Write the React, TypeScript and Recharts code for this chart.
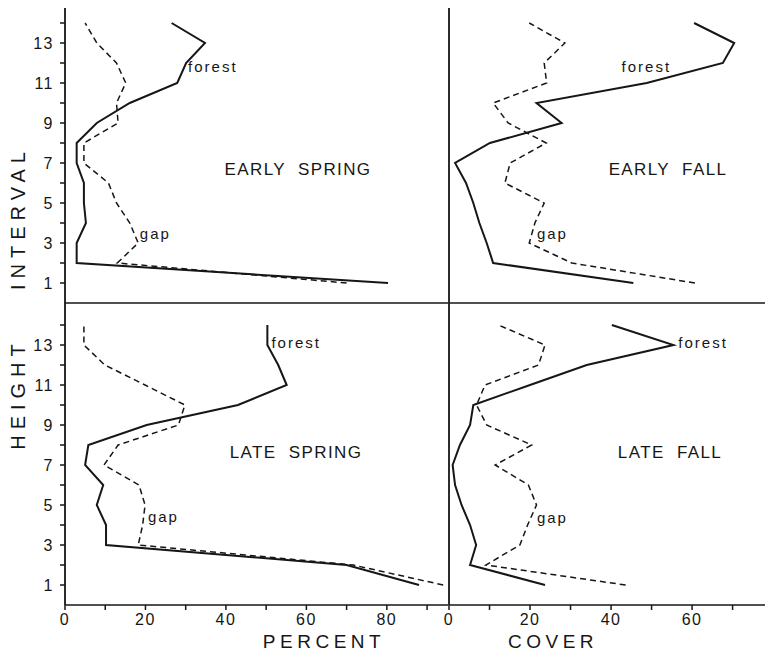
import React from 'react';
import { LineChart, Line, XAxis, YAxis, ReferenceDot } from 'recharts';

// height intervals, bottom to top
const heights = [1, 2, 3, 4, 5, 6, 7, 8, 9, 10, 11, 12, 13, 14];

// percent cover per height interval (index 0 = interval 1)
const earlySpringForest = [80.3, 2.9, 2.9, 5.2, 4.7, 4.7, 2.9, 2.9, 7.9, 16.1, 27.9, 30.1, 34.8, 26.5];
const earlySpringGap = [70, 13, 18.2, 16.1, 12.8, 10.8, 4.7, 4.7, 13.2, 12.8, 15.1, 12.8, 7.9, 5];
const earlyFallForest = [45.5, 10.9, 9.3, 7.5, 6, 4.2, 1.5, 10.1, 27.8, 21.6, 48.8, 67.6, 70.4, 60.5];
const earlyFallGap = [60.7, 30.3, 19.8, 21.2, 23.5, 13.8, 15.1, 24, 14.6, 10.9, 24.1, 23.5, 28.6, 19.8];
const lateSpringForest = [88, 70, 10.2, 10.2, 7.9, 9.5, 5, 5.8, 20.3, 43, 55.1, 53, 50.3, 50.3];
const lateSpringGap = [94, 71.6, 18.2, 19.3, 19.9, 18.4, 9.7, 13.2, 28.2, 29.8, 19.9, 9.9, 4.7, 4.7];
const lateFallForest = [23.7, 5.2, 6.7, 5.2, 3.1, 1.5, 0.9, 2.7, 5.2, 6, 20, 34, 55.4, 40.2];
const lateFallGap = [43.6, 9.1, 17.5, 19.4, 21.6, 19.6, 11.4, 20.4, 9.3, 6.8, 8.9, 22.1, 23.7, 12.2];

const leftCoverTicks = [0, 10, 20, 30, 40, 50, 60, 70, 80, 90];
const rightCoverTicks = [0, 10, 20, 30, 40, 50, 60, 70];

const INK = '#161616';
const FONT = '"Liberation Sans", Arial, sans-serif';

const oddOnly = (v: number) => (v % 2 === 1 ? String(v) : '');
const byTwenty = (v: number) => (v % 20 === 0 ? String(v) : '');

type PanelProps = {
  left: number;
  top: number;
  width: number;
  height: number;
  xMax: number;
  yMax: number;
  xTicks: number[];
  xLabels: boolean;
  yLabels: boolean;
  forest: number[];
  gap: number[];
  forestAt: [number, number];
  gapAt: [number, number];
};

function tag(text: string) {
  return (p: any) => (
    <text x={p.cx} y={p.cy} fill={INK} fontSize={15} fontFamily={FONT} letterSpacing={2}>
      {text}
    </text>
  );
}

function Panel(props: PanelProps) {
  const { left, top, width, height, xMax, yMax, xTicks, xLabels, yLabels, forest, gap, forestAt, gapAt } = props;
  const data = heights.map((h, i) => ({ h, forest: forest[i], gap: gap[i] }));
  return (
    <div style={{ position: 'absolute', left, top }}>
      <LineChart
        width={width}
        height={height}
        data={data}
        layout="vertical"
        margin={{ top: 8, right: 0, bottom: 0, left: 0 }}
      >
        <XAxis
          type="number"
          domain={[0, xMax]}
          ticks={xTicks}
          height={xLabels ? 35 : 10}
          tick={xLabels ? { fill: INK, fontSize: 16, fontFamily: FONT, letterSpacing: 1.5 } : false}
          tickFormatter={byTwenty}
          tickSize={5}
          tickMargin={4}
          axisLine={{ stroke: INK, strokeWidth: 1.5 }}
          tickLine={{ stroke: INK, strokeWidth: 1.5 }}
          allowDataOverflow
        />
        <YAxis
          type="number"
          dataKey="h"
          domain={[0, yMax]}
          ticks={heights}
          reversed
          width={65}
          tick={yLabels ? { fill: INK, fontSize: 16, fontFamily: FONT, letterSpacing: 1.5 } : false}
          tickFormatter={oddOnly}
          tickSize={5}
          tickMargin={6}
          axisLine={{ stroke: INK, strokeWidth: 1.8 }}
          tickLine={{ stroke: INK, strokeWidth: 1.5 }}
          allowDataOverflow
        />
        <Line
          dataKey="gap"
          stroke={INK}
          strokeWidth={1.5}
          strokeDasharray="6 4"
          dot={false}
          isAnimationActive={false}
        />
        <Line dataKey="forest" stroke={INK} strokeWidth={2} dot={false} isAnimationActive={false} />
        <ReferenceDot x={forestAt[0]} y={forestAt[1]} r={0} shape={tag('forest')} ifOverflow="visible" />
        <ReferenceDot x={gapAt[0]} y={gapAt[1]} r={0} shape={tag('gap')} ifOverflow="visible" />
      </LineChart>
    </div>
  );
}

const titleStyle = { fill: INK, fontFamily: FONT, fontSize: 17, letterSpacing: 1.4 } as const;
const axisTitleStyle = { fill: INK, fontFamily: FONT, fontSize: 19, letterSpacing: 4.5 } as const;
const sideTitleStyle = { fill: INK, fontFamily: FONT, fontSize: 20, letterSpacing: 6 } as const;

export default function App() {
  return (
    <div style={{ position: 'absolute', left: 0, top: 0, width: 765, height: 657, background: '#fff' }}>
      <Panel
        left={0}
        top={0}
        width={448}
        height={313}
        xMax={95.2}
        yMax={14.75}
        xTicks={leftCoverTicks}
        xLabels={false}
        yLabels
        forest={earlySpringForest}
        gap={earlySpringGap}
        forestAt={[30.6, 11.57]}
        gapAt={[18.6, 3.2]}
      />
      <Panel
        left={384}
        top={0}
        width={381}
        height={313}
        xMax={78}
        yMax={14.75}
        xTicks={rightCoverTicks}
        xLabels={false}
        yLabels={false}
        forest={earlyFallForest}
        gap={earlyFallGap}
        forestAt={[42.6, 11.57]}
        gapAt={[21.7, 3.2]}
      />
      <Panel
        left={0}
        top={295}
        width={448}
        height={345}
        xMax={95.2}
        yMax={15.1}
        xTicks={leftCoverTicks}
        xLabels
        yLabels
        forest={lateSpringForest}
        gap={lateSpringGap}
        forestAt={[51.3, 12.84]}
        gapAt={[20.6, 4.17]}
      />
      <Panel
        left={384}
        top={295}
        width={381}
        height={345}
        xMax={78}
        yMax={15.1}
        xTicks={rightCoverTicks}
        xLabels
        yLabels={false}
        forest={lateFallForest}
        gap={lateFallGap}
        forestAt={[56.6, 12.84]}
        gapAt={[21.7, 4.1]}
      />
      <svg width={765} height={657} style={{ position: 'absolute', left: 0, top: 0, pointerEvents: 'none' }}>
        <text x={298} y={175} textAnchor="middle" style={{ ...titleStyle, whiteSpace: 'pre' }}>EARLY  SPRING</text>
        <text x={668} y={175} textAnchor="middle" style={{ ...titleStyle, whiteSpace: 'pre' }}>EARLY  FALL</text>
        <text x={296} y={458} textAnchor="middle" style={{ ...titleStyle, whiteSpace: 'pre' }}>LATE  SPRING</text>
        <text x={670} y={458} textAnchor="middle" style={{ ...titleStyle, whiteSpace: 'pre' }}>LATE  FALL</text>
        <text x={324} y={648} textAnchor="middle" style={axisTitleStyle}>PERCENT</text>
        <text x={553} y={648} textAnchor="middle" style={axisTitleStyle}>COVER</text>
        <text transform="translate(25,218) rotate(-90)" textAnchor="middle" style={sideTitleStyle}>INTERVAL</text>
        <text transform="translate(25,394) rotate(-90)" textAnchor="middle" style={sideTitleStyle}>HEIGHT</text>
      </svg>
    </div>
  );
}
